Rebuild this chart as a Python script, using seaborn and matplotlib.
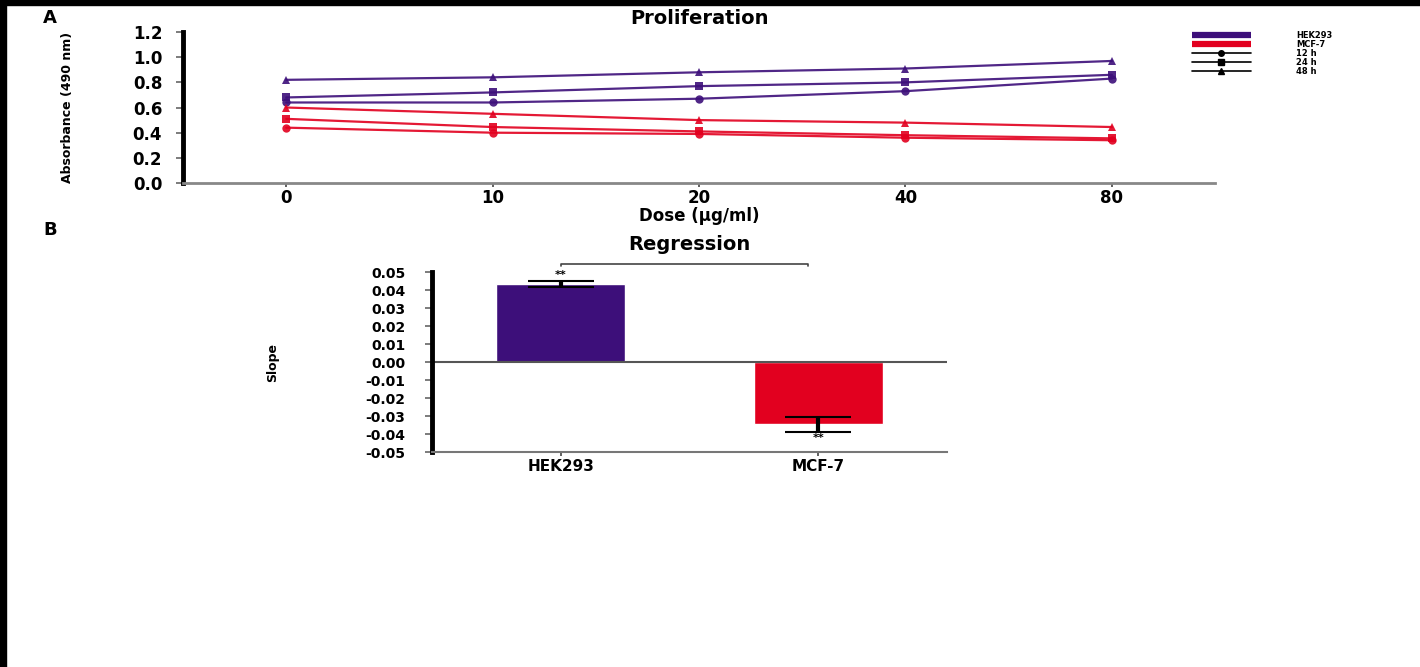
import numpy as np
import pandas as pd
import seaborn as sns
import matplotlib.pyplot as plt
from matplotlib.lines import Line2D
from matplotlib.patches import Rectangle

# ---- data ----
doses = ["0", "10", "20", "40", "80"]
times = ["12 h", "24 h", "48 h"]
cells = ["HEK293", "MCF-7"]

hek_12h = [0.64, 0.64, 0.67, 0.73, 0.83]
hek_24h = [0.68, 0.72, 0.77, 0.80, 0.86]
hek_48h = [0.82, 0.84, 0.88, 0.91, 0.97]
mcf_12h = [0.44, 0.40, 0.39, 0.36, 0.34]
mcf_24h = [0.51, 0.445, 0.41, 0.38, 0.355]
mcf_48h = [0.60, 0.55, 0.50, 0.48, 0.445]

slopes = [0.0435, -0.0345]
slope_err = [0.0017, 0.0042]

purple = "#3d0f7a"
red = "#e2001f"

sns.set_style("ticks")
plt.rcParams["font.family"] = ["DejaVu Sans"]
plt.rcParams["font.weight"] = "bold"
plt.rcParams["text.color"] = "black"
plt.rcParams["axes.labelcolor"] = "black"
plt.rcParams["xtick.labelcolor"] = "black"
plt.rcParams["ytick.labelcolor"] = "black"
plt.rcParams["axes.unicode_minus"] = False

rows = []
for cell, series in [("HEK293", [hek_12h, hek_24h, hek_48h]),
                     ("MCF-7", [mcf_12h, mcf_24h, mcf_48h])]:
    for t, vals in zip(times, series):
        for i, v in enumerate(vals):
            rows.append({"cell": cell, "time": t, "pos": i, "abs": v})
df = pd.DataFrame(rows)

fig = plt.figure(figsize=(14.2, 6.67), dpi=100)
fig.patch.set_facecolor("white")

# ---- panel A: proliferation ----
axA = fig.add_axes([0.1289, 0.7256, 0.7268, 0.2264])
sns.lineplot(data=df, x="pos", y="abs", hue="cell", style="time",
             palette={"HEK293": purple, "MCF-7": red},
             markers={"12 h": "o", "24 h": "s", "48 h": "^"}, dashes=False,
             markersize=6, markeredgewidth=0, linewidth=1.6, alpha=0.9,
             legend=False, ax=axA)
axA.set_xlim(-0.5, 4.5)
axA.set_ylim(0, 1.2)
axA.set_xticks(range(len(doses)))
axA.set_xticklabels(doses)
axA.set_yticks(np.arange(0, 1.21, 0.2))
axA.set_yticklabels([f"{v:.1f}" for v in np.arange(0, 1.21, 0.2)])
axA.set_xlabel("Dose (\u00b5g/ml)", fontsize=12, fontweight="bold", labelpad=0)
axA.set_ylabel("Absorbance (490 nm)", fontsize=9, fontweight="bold", labelpad=42)
axA.set_title("Proliferation", fontsize=14, fontweight="bold", pad=6)
for s in ["top", "right"]:
    axA.spines[s].set_visible(False)
axA.spines["left"].set_linewidth(3.5)
axA.spines["left"].set_color("black")
axA.spines["bottom"].set_linewidth(2)
axA.spines["bottom"].set_color("#888888")
axA.tick_params(axis="y", length=5, width=1.2, color="#666666", labelsize=12, pad=10)
axA.tick_params(axis="x", length=3, width=1.2, color="#444444", labelsize=12, pad=1)

handles = [
    Line2D([], [], color=purple, lw=4.5, solid_capstyle="butt"),
    Line2D([], [], color=red, lw=4.5, solid_capstyle="butt"),
    Line2D([], [], color="black", lw=1.2, marker="o", ms=4),
    Line2D([], [], color="black", lw=1.2, marker="s", ms=4),
    Line2D([], [], color="black", lw=1.2, marker="^", ms=4),
]
fig.legend(handles, cells + times, loc="upper left",
           bbox_to_anchor=(1188 / 1420, 1 - 27 / 667), frameon=False,
           handlelength=7, handletextpad=5.5, labelspacing=0.0,
           borderpad=0, prop={"weight": "bold", "size": 6})

# ---- panel B: regression ----
axB = fig.add_axes([0.3042, 0.3223, 0.3627, 0.2699])
sns.barplot(x=cells, y=slopes, hue=cells, palette=[purple, red], width=0.5,
            saturation=1, legend=False, ax=axB, errorbar=None)
axB.errorbar(range(len(cells)), slopes, yerr=slope_err, fmt="none",
             ecolor="black", elinewidth=3, capsize=24, capthick=1.5, zorder=5)
axB.axhline(0, color="#555555", lw=1.5, zorder=1)
axB.set_xlim(-0.5, 1.5)
axB.set_ylim(-0.05, 0.05)
yt = np.round(np.arange(-0.05, 0.051, 0.01), 2)
axB.set_yticks(yt)
axB.set_yticklabels([f"{v:.2f}" for v in yt])
axB.set_ylabel("Slope", fontsize=9, fontweight="bold", labelpad=62)
axB.set_title("Regression", fontsize=14, fontweight="bold", pad=16)
for s in ["top", "right"]:
    axB.spines[s].set_visible(False)
axB.spines["left"].set_linewidth(3.5)
axB.spines["left"].set_color("black")
axB.spines["bottom"].set_linewidth(1.5)
axB.spines["bottom"].set_color("#777777")
axB.tick_params(axis="y", length=5, width=1.2, color="#666666", labelsize=10, pad=14)
axB.tick_params(axis="x", length=3, width=1.2, color="#444444", labelsize=11, pad=2)

axB.text(0, slopes[0] + slope_err[0] + 0.0005, "**", ha="center", va="bottom",
         fontsize=8)
axB.text(1, slopes[1] - slope_err[1] - 0.0005, "**", ha="center", va="top",
         fontsize=8)
axB.plot([0, 0, 0.96, 0.96], [0.0535, 0.0545, 0.0545, 0.0535], color="#444444",
         lw=1.2, clip_on=False)

# panel letters
fig.text(50 / 1420, 1 - 18 / 667, "A", fontsize=13, fontweight="bold",
         ha="center", va="center")
fig.text(50 / 1420, 1 - 230 / 667, "B", fontsize=13, fontweight="bold",
         ha="center", va="center")

# black frame strips of the screenshot
fig.patches.append(Rectangle((0, 1 - 5 / 667), 1, 5 / 667, transform=fig.transFigure,
                             color="black", zorder=0))
fig.patches.append(Rectangle((0, 0), 6 / 1420, 1, transform=fig.transFigure,
                             color="black", zorder=0))

fig.savefig("out.png", dpi=100)
